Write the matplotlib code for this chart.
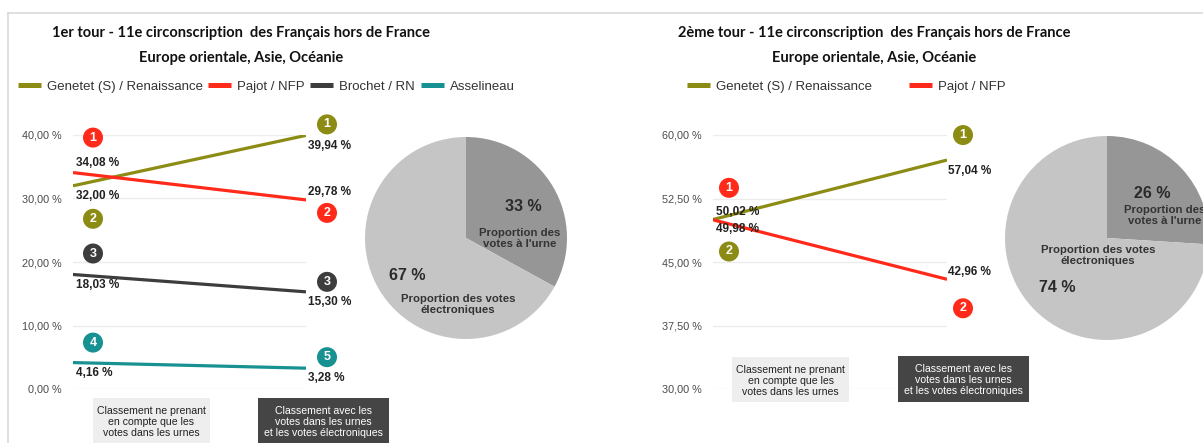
import matplotlib
matplotlib.use("Agg")
import matplotlib.pyplot as plt
from matplotlib.lines import Line2D
from matplotlib.patches import Rectangle
from matplotlib.transforms import Bbox, TransformedBbox

plt.rcParams["font.family"] = ["Liberation Sans", "DejaVu Sans"]

W, H = 1203, 443
PX = 72 / 100  # points per pixel at dpi 100

OLIVE = "#8c8c14"
RED   = "#ff2a1a"
DARK  = "#3d3d3d"
TEAL  = "#179191"
TXT   = "#222222"
GRID  = "#ececec"
BORDER = "#d9d9d9"
PIE_DARK  = "#969696"
PIE_LIGHT = "#c5c5c5"

# ── data ────────────────────────────────────────────────────────────────
t1_names  = ["Genetet (S) / Renaissance", "Pajot / NFP", "Brochet / RN", "Asselineau"]
t1_colors = [OLIVE, RED, DARK, TEAL]
t1_urne   = [32.00, 34.08, 18.03, 4.16]
t1_total  = [39.94, 29.78, 15.30, 3.28]
t1_rank_urne  = [2, 1, 3, 4]
t1_rank_total = [1, 2, 3, 5]
t1_yticks = [0, 10, 20, 30, 40]

t2_names  = ["Genetet (S) / Renaissance", "Pajot / NFP"]
t2_colors = [OLIVE, RED]
t2_urne   = [50.02, 49.98]
t2_total  = [57.04, 42.96]
t2_rank_urne  = [2, 1]
t2_rank_total = [1, 2]
t2_yticks = [30, 37.5, 45, 52.5, 60]

pie1_vals = [33, 67]
pie2_vals = [26, 74]

# ── layout (pixel offsets, +y = up) ────────────────────────────────────
t1_badge_l = [(20, -33), (20, 35), (20, 21), (20, 20)]
t1_badge_r = [(21, 11), (21, -13), (21, 10), (21, 11)]
t1_lab_l   = [(3, -10), (3, 10), (3, -10), (3, -10)]
t1_lab_r   = [(2, -11), (2, 8), (2, -10), (2, -10)]

t2_badge_l = [(16, -32), (16, 32)]
t2_badge_r = [(16, 25), (16, -29)]
t2_lab_l   = [(3, 7), (3, -9)]
t2_lab_r   = [(1, -11), (1, 7)]


def fr(x0, y0, x1, y1):
    """pixel box (top-left origin) -> figure fraction rect"""
    return [x0 / W, 1 - y1 / H, (x1 - x0) / W, (y1 - y0) / H]


def fmt(v):
    return f"{v:.2f}".replace(".", ",") + " %"


def line_panel(ax, urne, total, colors, r_l, r_r, b_l, b_r, l_l, l_r, yticks):
    ax.set_xlim(0, 1)
    ax.set_ylim(yticks[0], yticks[-1])
    ax.set_yticks(yticks)
    ax.set_yticklabels([fmt(t) for t in yticks])
    ax.set_xticks([])
    ax.tick_params(axis="y", length=0, pad=8, labelsize=7.8, labelcolor="#4a4a4a")
    ax.grid(axis="y", color=GRID, lw=1)
    ax.set_axisbelow(True)
    for s in ax.spines.values():
        s.set_visible(False)
    for i, c in enumerate(colors):
        ax.plot([0, 1], [urne[i], total[i]], color=c, lw=2.3, solid_capstyle="butt", zorder=3)
        for x, v, rk, off in [(0, urne[i], r_l[i], b_l[i]), (1, total[i], r_r[i], b_r[i])]:
            ax.annotate(str(rk), (x, v), xytext=(off[0] * PX, off[1] * PX),
                        textcoords="offset points", ha="center", va="center",
                        color="white", fontsize=9, fontweight="bold", annotation_clip=False,
                        bbox=dict(boxstyle="circle,pad=0.32", fc=c, ec="none"))
        for x, v, off in [(0, urne[i], l_l[i]), (1, total[i], l_r[i])]:
            ax.annotate(fmt(v), (x, v), xytext=(off[0] * PX, off[1] * PX),
                        textcoords="offset points", ha="left", va="center",
                        color=TXT, fontsize=8.5, fontweight="bold", annotation_clip=False)


def pie_panel(ax, vals, texts):
    ax.pie(vals, colors=[PIE_DARK, PIE_LIGHT], startangle=90, counterclock=False,
           radius=1, wedgeprops=dict(linewidth=0))
    ax.set_xlim(-1, 1)
    ax.set_ylim(-1, 1)
    ax.set_aspect("auto")
    for x, y, s, fs in texts:
        ax.text(x, y, s, ha="center", va="center", fontsize=fs, fontweight="bold",
                color="#2a2a2a" if fs > 9 else "#333333", linespacing=1.1, clip_on=False)


def boxes(fig, specs):
    for x0, y0, x1, y1, fc, tc, label in specs:
        fig.add_artist(Rectangle((x0 / W, 1 - y1 / H), (x1 - x0) / W, (y1 - y0) / H,
                                 transform=fig.transFigure, fc=fc, ec="none"))
        fig.text((x0 + x1) / 2 / W, 1 - (y0 + 24) / H, label, ha="center", va="center",
                 fontsize=7.6, color=tc, linespacing=1.15)


fig = plt.figure(figsize=(W / 100, H / 100), dpi=100, facecolor="white")

# panel border
fig.add_artist(Line2D([8 / W, 1], [1 - 13 / H] * 2, transform=fig.transFigure, color=BORDER, lw=1.2))
fig.add_artist(Line2D([8 / W] * 2, [0, 1 - 13 / H], transform=fig.transFigure, color=BORDER, lw=1.2))

# titles
for cx, t in [(241, "1er tour - 11e circonscription  des Français hors de France"),
              (874, "2ème tour - 11e circonscription  des Français hors de France")]:
    fig.text(cx / W, 1 - 33 / H, t, ha="center", va="center", fontsize=10.5,
             fontweight="bold", family=["Lato", "DejaVu Sans"], color="#111111")
    fig.text(cx / W, 1 - 58 / H, "Europe orientale, Asie, Océanie", ha="center", va="center",
             fontsize=10.5, fontweight="bold", family=["Lato", "DejaVu Sans"], color="#111111")

# tour 1
ax1 = fig.add_axes(fr(73, 135, 306, 389))
line_panel(ax1, t1_urne, t1_total, t1_colors, t1_rank_urne, t1_rank_total,
           t1_badge_l, t1_badge_r, t1_lab_l, t1_lab_r, t1_yticks)

# tour 2
ax2 = fig.add_axes(fr(713, 135, 947, 389))
line_panel(ax2, t2_urne, t2_total, t2_colors, t2_rank_urne, t2_rank_total,
           t2_badge_l, t2_badge_r, t2_lab_l, t2_lab_r, t2_yticks)

# legends
def legend(names, colors, anchor, spacing, clip_x=None):
    handles = [Line2D([], [], color=c, lw=5 * PX, solid_capstyle="butt") for c in colors]
    leg = fig.legend(handles, names, loc="center left", bbox_to_anchor=anchor, ncol=len(names),
                     frameon=False, fontsize=9.5, handlelength=1.75, handletextpad=0.45,
                     columnspacing=spacing, borderpad=0, labelcolor="#333333")
    if clip_x is not None:
        t = leg.get_texts()[-1]
        t.set_clip_box(TransformedBbox(Bbox([[0, 0], [clip_x / W, 1]]), fig.transFigure))
        t.set_clip_on(True)
    return leg

legend(t1_names, t1_colors, (11 / W, 1 - 87 / H), 0.42, clip_x=515)
legend(t2_names, t2_colors, (680 / W, 1 - 87 / H), 2.8)

# pies
pa = fig.add_axes(fr(365, 137, 567, 339))
pie_panel(pa, pie1_vals, [(0.57, 0.31, "33 %", 11.5),
                          (0.53, -0.005, "Proportion des\nvotes à l'urne", 8.2),
                          (-0.58, -0.37, "67 %", 11.5),
                          (-0.08, -0.66, "Proportion des votes\nélectroniques", 8.2)])
pb = fig.add_axes(fr(1005, 136, 1209, 340))
pie_panel(pb, pie2_vals, [(0.44, 0.44, "26 %", 11.5),
                          (0.57, 0.22, "Proportion des\nvotes à l'urne", 8.2),
                          (-0.09, -0.17, "Proportion des votes\nélectroniques", 8.2),
                          (-0.49, -0.49, "74 %", 11.5)])

# caption boxes
c_urne = "Classement ne prenant\nen compte que les\nvotes dans les urnes"
c_tot = "Classement avec les\nvotes dans les urnes\net les votes électroniques"
boxes(fig, [(93, 398, 210, 460, "#eeeeee", "#222222", c_urne),
            (258, 398, 389, 460, "#454545", "white", c_tot),
            (732, 357, 849, 402, "#eeeeee", "#222222", c_urne),
            (898, 356, 1029, 402, "#454545", "white", c_tot)])

fig.savefig("out.png", dpi=100, facecolor="white")
